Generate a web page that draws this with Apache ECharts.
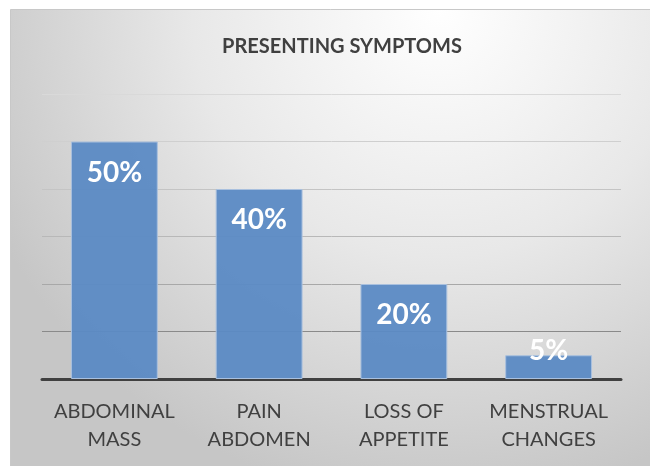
<!DOCTYPE html>
<html><head><meta charset="utf-8">
<script src="https://cdn.jsdelivr.net/npm/echarts@6/dist/echarts.min.js"></script>
<style>html,body{margin:0;padding:0;background:#fff;}#c{width:650px;height:466px;}</style>
</head><body><div id="c"></div>
<script>
const categories = ['ABDOMINAL\nMASS', 'PAIN\nABDOMEN', 'LOSS OF\nAPPETITE', 'MENSTRUAL\nCHANGES'];
const values = [50, 40, 20, 5];
const chartTitle = 'PRESENTING SYMPTOMS';

const FONT = 'Lato, "Open Sans", sans-serif';
const chart = echarts.init(document.getElementById('c'), null, {renderer: 'canvas'});
const dataItems = values.map(v => {
  const item = {value: v};
  if (v < 10) item.label = {position: 'insideBottom', distance: 14};
  return item;
});
chart.setOption({
  animation: false,
  graphic: [{
    type: 'rect', z: -10, silent: true,
    shape: {x: 10.5, y: 9.5, width: 650, height: 470},
    style: {
      fill: {type: 'radial', x: 0.66, y: 0.0, r: 1.05,
        colorStops: [{offset: 0, color: '#ffffff'}, {offset: 0.5, color: '#e8e8e8'}, {offset: 1, color: '#c6c6c6'}]},
      stroke: '#c8c8c8', lineWidth: 1
    }
  }],
  title: {
    text: chartTitle, left: 337, top: 32, textAlign: 'center',
    textStyle: {fontFamily: FONT, fontSize: 20, fontWeight: 'bold', color: '#404040'}
  },
  grid: {left: 42, right: 29, top: 94, bottom: 87, containLabel: false},
  xAxis: {
    type: 'category', data: categories,
    axisLine: {show: true, lineStyle: {color: '#404040', width: 3}},
    axisTick: {show: false},
    axisLabel: {fontFamily: FONT, fontSize: 20, color: '#404040', lineHeight: 28, margin: 19, interval: 0}
  },
  yAxis: {
    type: 'value', min: 0, max: 60, interval: 10,
    axisLabel: {show: false}, axisLine: {show: false}, axisTick: {show: false},
    splitLine: {show: true, lineStyle: {width: 1, color: ['#404040', '#8a8a8a', '#a8a8a8', '#b8b8b8', '#c4c4c4', '#cfcfcf', '#d9d9d9']}}
  },
  series: [{
    type: 'bar', data: dataItems, barWidth: '60%',
    itemStyle: {color: 'rgba(91,138,196,0.95)', borderColor: '#a9c0de', borderWidth: 1},
    label: {
      show: true, position: 'insideTop', distance: 17, formatter: '{c}%',
      fontFamily: FONT, fontSize: 28, fontWeight: 'bold', color: '#ffffff'
    }
  }]
});
</script></body></html>
